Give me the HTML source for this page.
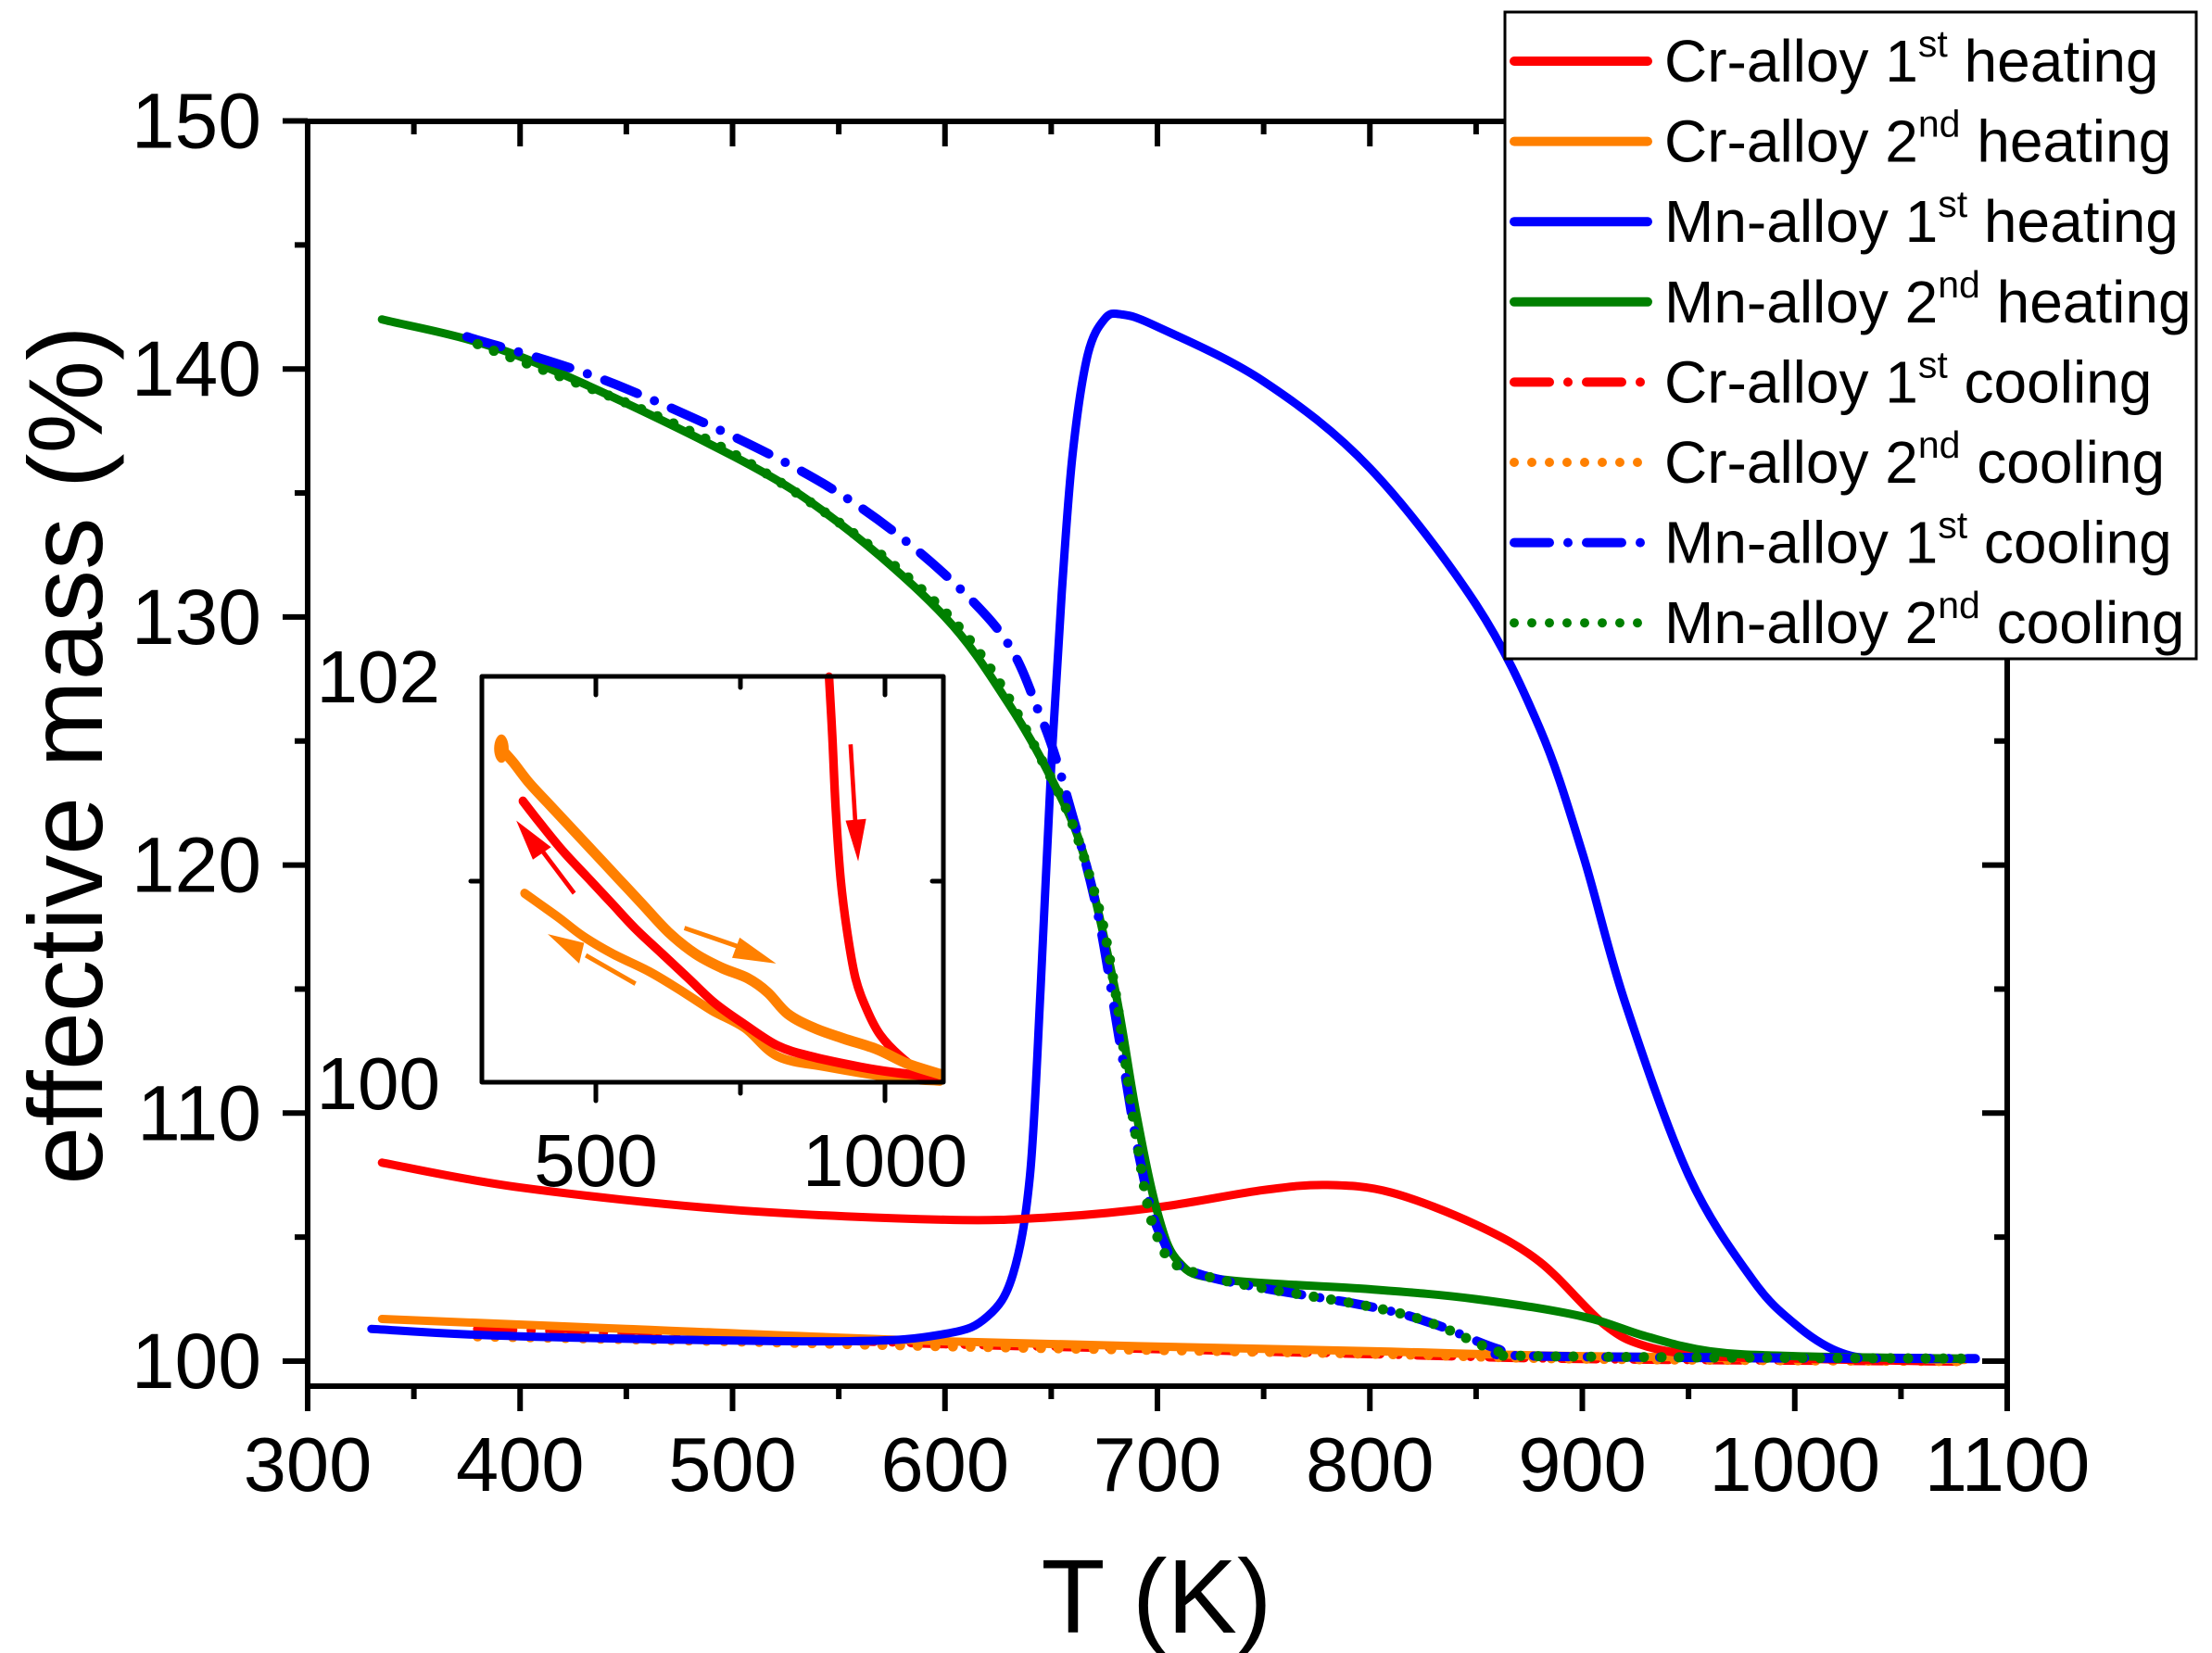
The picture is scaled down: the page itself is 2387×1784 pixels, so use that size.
<!DOCTYPE html>
<html><head><meta charset="utf-8"><style>
html,body{margin:0;padding:0;background:#fff;}
svg{display:block;font-family:"Liberation Sans",Arial,sans-serif;}
</style></head><body>
<svg id="s" width="2387" height="1784" viewBox="0 0 2387 1784" xmlns="http://www.w3.org/2000/svg">
<rect width="2387" height="1784" fill="#fff"/>
<g id="plot" fill="none" stroke-linejoin="round" stroke-linecap="round"></g>
<g id="axes"></g>
<rect x="520" y="730" width="498" height="438" fill="#fff"/>
<g id="inset" fill="none" stroke-linejoin="round" stroke-linecap="round"></g>
<g id="legend"></g>
<text x="1248" y="1762" font-size="113" text-anchor="middle">T (K)</text>
<text transform="translate(110,815) rotate(-90)" font-size="113" text-anchor="middle">effective mass (%)</text>
</svg>
<script>
const NS="http://www.w3.org/2000/svg";
function el(p,tag,attrs,txt){const e=document.createElementNS(NS,tag);for(const k in attrs)e.setAttribute(k,attrs[k]);if(txt!==undefined)e.textContent=txt;p.appendChild(e);return e;}
const X=t=>332+(t-300)*2.2925, Y=m=>1469-(m-100)*26.77;
function smooth(pts){let d="M"+pts[0][0].toFixed(1)+","+pts[0][1].toFixed(1);
 for(let i=0;i<pts.length-1;i++){const p0=pts[Math.max(0,i-1)],p1=pts[i],p2=pts[i+1],p3=pts[Math.min(pts.length-1,i+2)];
 const c1=[p1[0]+(p2[0]-p0[0])/6,p1[1]+(p2[1]-p0[1])/6],c2=[p2[0]-(p3[0]-p1[0])/6,p2[1]-(p3[1]-p1[1])/6];
 d+=" C"+c1[0].toFixed(1)+","+c1[1].toFixed(1)+" "+c2[0].toFixed(1)+","+c2[1].toFixed(1)+" "+p2[0].toFixed(1)+","+p2[1].toFixed(1);}
 return d;}
const plot=document.getElementById("plot");
const DD="38 20 0 20", DOT="0 19";
function curve(data,color,dash,w){const pts=data.map(p=>[X(p[0]),Y(p[1])]);const a={d:smooth(pts),stroke:color,"stroke-width":w||9};if(dash)a["stroke-dasharray"]=dash;el(plot,"path",a);}
const R="#ff0000",O="#ff8000",B="#0000ff",G="#008000";
curve([[380,101.3],[500,101.0],[600,100.7],[700,100.5],[800,100.3],[900,100.1],[1080,100.0]],R,DD,10);
curve([[380,101.0],[500,100.8],[600,100.6],[800,100.3],[900,100.1],[1080,100.0]],O,DOT,11);
curve([[335,101.7],[450,101.3],[600,100.8],[800,100.4],[900,100.2],[1080,100.05]],O);
curve([[330,101.3],[400,101.0],[550,100.8],[600,101.1],[620,101.8],[632,103.5],[640,107.5],[645,115],[650,124],[655,131],[660,136.5],[667,140.5],[675,142],[683,142.2],[700,141.7],[750,139.5],[800,136],[850,130.5],[880,125.5],[900,120.5],[920,114.5],[950,107.5],[980,103.3],[1000,101.5],[1020,100.4],[1040,100.1],[1085,100.1]],B);
curve([[335,108],[400,107],[500,106.1],[600,105.7],[650,105.8],[700,106.2],[750,106.9],[780,107.1],[810,106.8],[850,105.5],[880,104],[910,101.5],[930,100.6],[960,100.2],[1000,100.1],[1060,100]],R);
curve([[335,142],[400,140.5],[500,136.5],[550,133.8],[600,130],[630,126.5],[650,123.5],[665,120.5],[680,115],[690,110],[700,106],[710,104],[730,103.3],[800,102.9],[850,102.5],[900,101.8],[930,101],[960,100.4],[1000,100.2],[1085,100.1]],G);
curve([[375,141.3],[450,139.2],[550,135],[620,130],[645,126],[660,122],[672,118],[682,113],[692,108],[702,105],[720,103.5],[800,102.2],[830,101.5],[860,100.5],[880,100.2],[1085,100.1]],B,DD,10);
curve([[380,141],[500,136.6],[600,130.2],[650,123.5],[670,119],[680,115],[690,109],[700,105],[720,103.5],[800,102.2],[830,101.5],[860,100.4],[880,100.2],[1085,100.1]],G,DOT,11);

const ax=document.getElementById("axes");
el(ax,"rect",{x:332,y:131,width:1834,height:1365,fill:"none",stroke:"#000","stroke-width":6});
for(let t=300;t<=1100;t+=50){const x=X(t),maj=t%100==0;const L=maj?27:14;
 el(ax,"line",{x1:x,y1:1496,x2:x,y2:1496+L,stroke:"#000","stroke-width":6});
 el(ax,"line",{x1:x,y1:131,x2:x,y2:131+L,stroke:"#000","stroke-width":6});
 if(maj)el(ax,"text",{x:x,y:1609,"font-size":83,"text-anchor":"middle"},t);}
for(let m=100;m<=150;m+=5){const y=Y(m),maj=m%10==0;const L=maj?27:14;
 el(ax,"line",{x1:332,y1:y,x2:332-L,y2:y,stroke:"#000","stroke-width":6});
 el(ax,"line",{x1:2166,y1:y,x2:2166-L,y2:y,stroke:"#000","stroke-width":6});
 if(maj)el(ax,"text",{x:282,y:y+29,"font-size":84,"text-anchor":"end"},m);}

const ins=document.getElementById("inset");
const g=el(ins,"g",{transform:"translate(500,700) scale(0.35714,0.3827)"});
function ic(pts,c,w){el(g,"path",{d:smooth(pts),stroke:c,"stroke-width":w||24});}
ic([[1105,80],[1115,250],[1125,450],[1140,650],[1160,800],[1185,930],[1220,1020],[1260,1090],[1320,1150],[1380,1190],[1440,1200]],R,26);
ic([[185,690],[230,720],[290,760],[360,810],[450,860],[560,910],[650,960],[750,1020],[850,1070],[950,1150],[1100,1180],[1300,1210],[1440,1220]],O,26);
ic([[180,430],[230,490],[300,570],[380,650],[450,720],[520,790],[600,860],[680,930],[760,1000],[850,1060],[950,1120],[1050,1150],[1200,1180],[1300,1195],[1440,1210]],R,26);
ic([[112,280],[150,320],[200,380],[260,440],[330,510],[400,580],[470,650],[540,720],[620,800],[700,860],[780,900],[860,930],[920,970],[980,1030],[1060,1070],[1150,1100],[1250,1130],[1340,1170],[1440,1200]],O,30);
el(g,"ellipse",{cx:115,cy:282,rx:22,ry:40,fill:O});
function arrow(l,h,c){el(g,"line",{x1:l[0],y1:l[1],x2:l[2],y2:l[3],stroke:c,"stroke-width":13,"stroke-linecap":"butt"});el(g,"polygon",{points:h,fill:c,stroke:"none"});}
arrow([1170,270,1185,500],"1155,485 1217,480 1193,600",R);
arrow([335,690,230,560],"160,485 265,560 210,595",R);
arrow([668,788,830,840],"812,872 835,815 945,888",O);
arrow([520,945,370,865],"255,805 365,830 350,888",O);
el(ins,"rect",{x:520,y:730,width:498,height:438,fill:"none",stroke:"#000","stroke-width":5});
[[643,1],[799,0],[955,1]].forEach(([x,m])=>{const L=m?20:12;
 el(ins,"line",{x1:x,y1:1168,x2:x,y2:1168+L,stroke:"#000","stroke-width":5});
 el(ins,"line",{x1:x,y1:730,x2:x,y2:730+L,stroke:"#000","stroke-width":5});});
el(ins,"line",{x1:520,y1:951,x2:508,y2:951,stroke:"#000","stroke-width":5});
el(ins,"line",{x1:1018,y1:951,x2:1006,y2:951,stroke:"#000","stroke-width":5});
el(ins,"text",{x:643,y:1280,"font-size":80,"text-anchor":"middle",fill:"#000"},"500");
el(ins,"text",{x:955,y:1280,"font-size":80,"text-anchor":"middle",fill:"#000"},"1000");
el(ins,"text",{x:475,y:758,"font-size":80,"text-anchor":"end",fill:"#000"},"102");
el(ins,"text",{x:475,y:1197,"font-size":80,"text-anchor":"end",fill:"#000"},"100");

const lg=document.getElementById("legend");
el(lg,"rect",{x:1624,y:13,width:746,height:698,fill:"#fff",stroke:"#000","stroke-width":3});
const items=[["Cr-alloy 1","st"," heating",R,""],["Cr-alloy 2","nd"," heating",O,""],["Mn-alloy 1","st"," heating",B,""],["Mn-alloy 2","nd"," heating",G,""],
["Cr-alloy 1","st"," cooling",R,DD],["Cr-alloy 2","nd"," cooling",O,DOT],["Mn-alloy 1","st"," cooling",B,DD],["Mn-alloy 2","nd"," cooling",G,DOT]];
items.forEach((it,i)=>{const y=66+i*86.6;
 const a={x1:1634,y1:y,x2:1778,y2:y,stroke:it[3],"stroke-width":10,"stroke-linecap":"round"};if(it[4])a["stroke-dasharray"]=it[4];
 el(lg,"line",a);
 const t=el(lg,"text",{x:1796,y:y+22,"font-size":64});
 el(t,"tspan",{},it[0]);el(t,"tspan",{dy:-27,"font-size":41},it[1]);el(t,"tspan",{dy:27},it[2]);});
</script>
</body></html>
